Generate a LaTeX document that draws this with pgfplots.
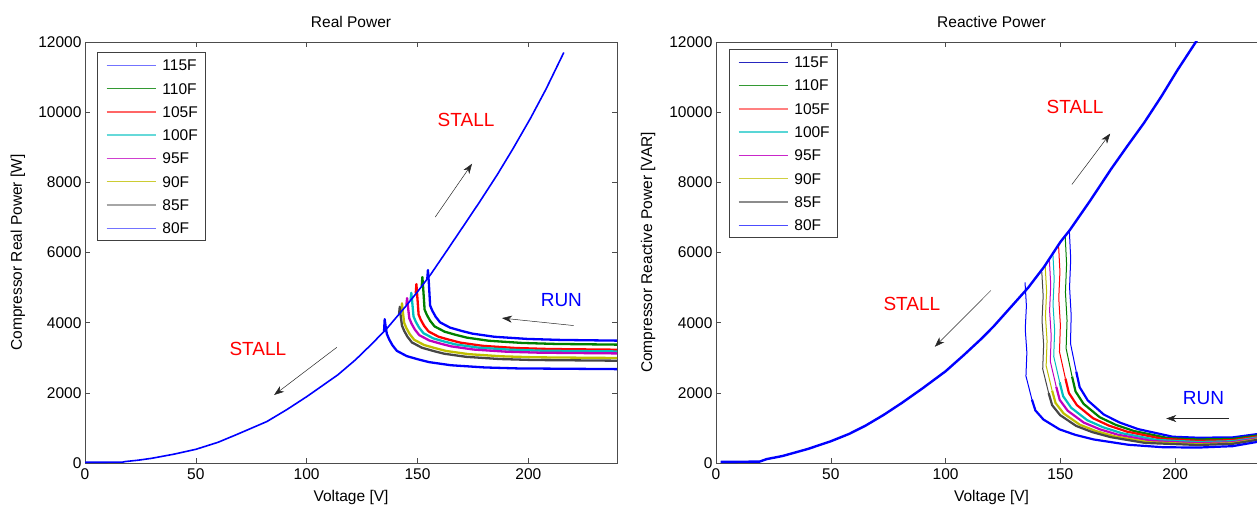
\documentclass[border=0pt]{standalone}
\usepackage{fontspec}
\setmainfont{Liberation Sans}
\usepackage{pgfplots}
\pgfplotsset{compat=1.18}
\usetikzlibrary{arrows.meta}
\definecolor{c115}{rgb}{0,0,1}
\definecolor{c115r}{rgb}{0.15,0.15,0.75}
\definecolor{c110}{rgb}{0,0.5,0}
\definecolor{c105}{rgb}{1,0,0}
\definecolor{c100}{rgb}{0,0.75,0.75}
\definecolor{c95}{rgb}{0.75,0,0.75}
\definecolor{c90}{rgb}{0.75,0.75,0}
\definecolor{c85}{rgb}{0.28,0.28,0.28}
\definecolor{c80}{rgb}{0,0,1}
\newcommand{\tf}{\fontsize{15.5}{18}\selectfont}
\newcommand{\af}{\fontsize{19}{22}\selectfont}
\pgfplotsset{
  myaxis/.style={
    scale only axis, height=421pt, anchor=south west,
    xmin=0, xmax=240, ymin=0, ymax=12000,
    xtick={0,50,...,200}, ytick={0,2000,...,12000},
    tick align=inside, major tick length=5pt, tick pos=both,
    xticklabel pos=lower, yticklabel pos=left,
    axis line style={black!70, line width=0.8pt},
    tick style={black!70, line width=0.6pt},
    every tick label/.append style={font=\tf, text=black},
    xticklabel style={yshift=-2pt},
    /pgf/number format/assume math mode=true,
    /pgf/number format/1000 sep={},
    scaled y ticks=false, scaled x ticks=false,
    label style={font=\tf},
    title style={font=\tf, at={(axis description cs:0.5,1)}, anchor=center, yshift=14pt},
    xlabel style={at={(axis description cs:0.5,0)}, anchor=center, yshift=-34pt},
    clip mode=individual,
    legend image code/.code={\draw[#1] (0pt,0pt) -- (49pt,0pt);},
    legend cell align=left,
    legend style={anchor=north west, draw=black!75, line width=0.8pt, fill=white,
      font=\tf, inner xsep=8pt, inner ysep=7pt, row sep=12.3pt,
      nodes={inner sep=0pt, text height=11pt, text depth=0pt},
      /tikz/every odd column/.append style={column sep=6pt}},
  },
  run/.style={line width=2.3pt, line join=round, forget plot},
  vq/.style={line width=1pt, line join=round, forget plot},
  tq/.style={line width=2.2pt, line join=round, forget plot},
}
\begin{document}
\begin{tikzpicture}
\useasboundingbox (0,0) rectangle (1257pt,507pt);
% ---------------- Real power ----------------
\begin{axis}[myaxis, at={(85pt,44pt)}, width=532pt,
  title={Real Power}, xlabel={Voltage [V]}, ylabel={Compressor Real Power [W]},
  ylabel style={at={(axis description cs:-0.126,0.5)}, anchor=center},
  legend style={at={(axis description cs:0.0231,0.9755)}}]
\addlegendimage{draw=c115!55, line width=1.3pt}
\addlegendimage{draw=c110!80, line width=1.3pt}
\addlegendimage{draw=c105!60, line width=1.4pt}
\addlegendimage{draw=c100!60, line width=1.5pt}
\addlegendimage{draw=c95!75, line width=1.3pt}
\addlegendimage{draw=c90!80, line width=1.3pt}
\addlegendimage{draw=black!35, line width=1.8pt}
\addlegendimage{draw=c80!55, line width=1.5pt}
\legend{115F,110F,105F,100F,95F,90F,85F,80F}
\addplot[run, c115] coordinates {(154.4,5240)(154.7,5500)(155.1,5150)(155.7,4488)(156.7,4338)(158.2,4168)(160.2,4008)(164.7,3858)(169.7,3768)(174.7,3688)(184.7,3598)(199.7,3536)(214.7,3508)(240,3488)};
\addplot[run, c110] coordinates {(151.9,5040)(152.2,5300)(152.6,4950)(153.2,4374)(154.2,4224)(155.7,4054)(157.7,3894)(162.2,3744)(167.2,3654)(172.2,3574)(182.2,3484)(197.2,3422)(212.2,3394)(240,3374)};
\addplot[run, c105] coordinates {(149.2,4830)(149.5,5100)(149.9,4750)(150.5,4229)(151.5,4079)(153.0,3909)(155.0,3749)(159.5,3599)(164.5,3509)(169.5,3429)(179.5,3339)(194.5,3277)(209.5,3249)(240,3229)};
\addplot[run, c100] coordinates {(146.9,4650)(147.2,4850)(147.6,4600)(148.2,4180)(149.2,4030)(150.7,3860)(152.7,3700)(157.2,3550)(162.2,3460)(167.2,3380)(177.2,3290)(192.2,3228)(207.2,3200)(240,3180)};
\addplot[run, c95] coordinates {(145.0,4500)(145.3,4700)(145.7,4450)(146.3,4124)(147.3,3974)(148.8,3804)(150.8,3644)(155.3,3494)(160.3,3404)(165.3,3324)(175.3,3234)(190.3,3172)(205.3,3144)(240,3124)};
\addplot[run, c90] coordinates {(142.7,4320)(143.0,4550)(143.4,4300)(144.0,3993)(145.0,3843)(146.5,3673)(148.5,3513)(153.0,3363)(158.0,3273)(163.0,3193)(173.0,3103)(188.0,3041)(203.0,3013)(240,2993)};
\addplot[run, c85] coordinates {(141.7,4250)(142.0,4450)(142.4,4200)(143.0,3916)(144.0,3766)(145.5,3596)(147.5,3436)(152.0,3286)(157.0,3196)(162.0,3116)(172.0,3026)(187.0,2964)(202.0,2936)(240,2916)};
\addplot[run, c80] coordinates {(134.9,3750)(135.2,4100)(135.6,3900)(136.2,3676)(137.2,3526)(138.7,3356)(140.7,3196)(145.2,3046)(150.2,2956)(155.2,2876)(165.2,2786)(180.2,2724)(195.2,2696)(240,2676)};
\addplot[c80, line width=1.6pt, forget plot] coordinates {(0,20)(17,25)(18,40)(24,80)(30,133)(40,250)(50,390)(60,590)(68,800)(82,1180)(91,1520)(100,1890)(114,2510)(122,2940)(129,3370)(136,3820)(145,4490)(150,4880)(156,5380)(163,6030)(171,6780)(178,7440)(186,8220)(193,8950)(201,9830)(208,10660)(216,11700)};
\node[text=red, font=\af] at (axis cs:171.9,9767) {STALL};
\node[text=red, font=\af] at (axis cs:78,3240) {STALL};
\node[text=blue, font=\af] at (axis cs:214.9,4637) {RUN};
\draw[-{Stealth[length=10pt,width=7pt,inset=3pt]}, black!85, line width=0.5pt] (axis cs:158,7011) -- (axis cs:174.6,8530);
\draw[-{Stealth[length=10pt,width=7pt,inset=3pt]}, black!85, line width=0.5pt] (axis cs:113.6,3297) -- (axis cs:85.3,1938);
\draw[-{Stealth[length=10pt,width=7pt,inset=3pt]}, black!85, line width=0.5pt] (axis cs:220.4,3918) -- (axis cs:188.1,4130);
\end{axis}
% ---------------- Reactive power ----------------
\begin{axis}[myaxis, at={(716pt,44pt)}, width=551pt,
  title={Reactive Power}, xlabel={Voltage [V]}, ylabel={Compressor Reactive Power [VAR]},
  ylabel style={at={(axis description cs:-0.123,0.5)}, anchor=center},
  legend style={at={(axis description cs:0.0241,0.9827)}}]
\addlegendimage{draw=c115r, line width=1.3pt}
\addlegendimage{draw=c110!80, line width=1.3pt}
\addlegendimage{draw=c105!50, line width=1.7pt}
\addlegendimage{draw=c100!65, line width=1.5pt}
\addlegendimage{draw=c95!85, line width=1.3pt}
\addlegendimage{draw=c90!75, line width=1.5pt}
\addlegendimage{draw=black!45, line width=1.5pt}
\addlegendimage{draw=c80!70, line width=1.4pt}
\legend{115F,110F,105F,100F,95F,90F,85F,80F}
% vertical drops (thin)
\addplot[vq, c115] coordinates {(153.9,6620)(154.5,5817)(154.0,5014)(154.7,4212)(154.4,3409)(156.9,2606)};
\addplot[vq, c110] coordinates {(152.1,6470)(152.7,5668)(152.2,4867)(152.9,4065)(152.5,3264)(155.1,2462)};
\addplot[vq, c105] coordinates {(149.2,6220)(149.8,5457)(149.3,4695)(150.0,3932)(149.6,3170)(152.2,2407)};
\addplot[vq, c100] coordinates {(146.7,6000)(147.3,5260)(146.8,4520)(147.5,3779)(147.1,3039)(149.7,2299)};
\addplot[vq, c95] coordinates {(145.2,5800)(145.8,5074)(145.3,4349)(146.0,3623)(145.6,2898)(148.2,2172)};
\addplot[vq, c90] coordinates {(143.4,5600)(144.0,4893)(143.5,4185)(144.2,3478)(143.8,2770)(146.4,2063)};
\addplot[vq, c85] coordinates {(141.9,5450)(142.5,4758)(142.0,4066)(142.7,3375)(142.3,2683)(144.9,1991)};
\addplot[vq, c80] coordinates {(134.6,5150)(135.2,4482)(134.7,3814)(135.4,3146)(135.0,2478)(137.6,1810)};
% run tails (thick, noisy band)
\addplot[tq, c115] coordinates {(156.9,2606)(158.4,2160)(161.9,1786)(168.9,1382)(175.9,1152)(183.9,965)(198.9,749)(210,720)(225,730)(240,860)};
\addplot[tq, c110] coordinates {(155.1,2462)(156.6,2040)(160.1,1686)(167.1,1306)(174.1,1088)(182.1,911)(197.1,707)(210,671)(225,686)(240,823)};
\addplot[tq, c105] coordinates {(152.2,2407)(153.7,1995)(157.2,1649)(164.2,1277)(171.2,1064)(179.2,891)(194.2,692)(210,632)(225,651)(240,794)};
\addplot[tq, c100] coordinates {(149.7,2299)(151.2,1905)(154.7,1575)(161.7,1219)(168.7,1016)(176.7,851)(191.7,660)(210,598)(225,621)(240,768)};
\addplot[tq, c95] coordinates {(148.2,2172)(149.7,1800)(153.2,1488)(160.2,1152)(167.2,960)(175.2,804)(190.2,624)(210,563)(225,590)(240,743)};
\addplot[tq, c90] coordinates {(146.4,2063)(147.9,1710)(151.4,1414)(158.4,1094)(165.4,912)(173.4,764)(188.4,593)(210,534)(225,564)(240,721)};
\addplot[tq, c85] coordinates {(144.9,1991)(146.4,1650)(149.9,1364)(156.9,1056)(163.9,880)(171.9,737)(186.9,572)(210,513)(225,546)(240,705)};
\addplot[tq, c80] coordinates {(137.6,1810)(139.1,1500)(142.6,1240)(149.6,960)(156.6,800)(164.6,670)(179.6,520)(194.6,450)(210,440)(225,480)(240,650)};
\addplot[c80, line width=2.4pt, forget plot] coordinates {(2,30)(19,40)(22,110)(29,200)(40,400)(50,620)(58,830)(65,1060)(73,1370)(81,1715)(90,2130)(100,2615)(108,3080)(116,3567)(121,3900)(130,4560)(136,5000)(143,5600)(150,6300)(154,6630)(163,7480)(172,8370)(179,9020)(186.5,9700)(194,10450)(201,11200)(209,12000)(213,12400)};
\node[text=red, font=\af] at (axis cs:156.4,10152) {STALL};
\node[text=red, font=\af] at (axis cs:85.3,4546) {STALL};
\node[text=blue, font=\af] at (axis cs:212.3,1858) {RUN};
\draw[-{Stealth[length=10pt,width=7pt,inset=3pt]}, black!85, line width=0.5pt] (axis cs:155,7937) -- (axis cs:171.7,9390);
\draw[-{Stealth[length=10pt,width=7pt,inset=3pt]}, black!85, line width=0.5pt] (axis cs:119.7,4916) -- (axis cs:95.3,3312);
\draw[-{Stealth[length=10pt,width=7pt,inset=3pt]}, black!85, line width=0.5pt] (axis cs:223.5,1268) -- (axis cs:196.1,1268);
\end{axis}
\end{tikzpicture}
\end{document}
